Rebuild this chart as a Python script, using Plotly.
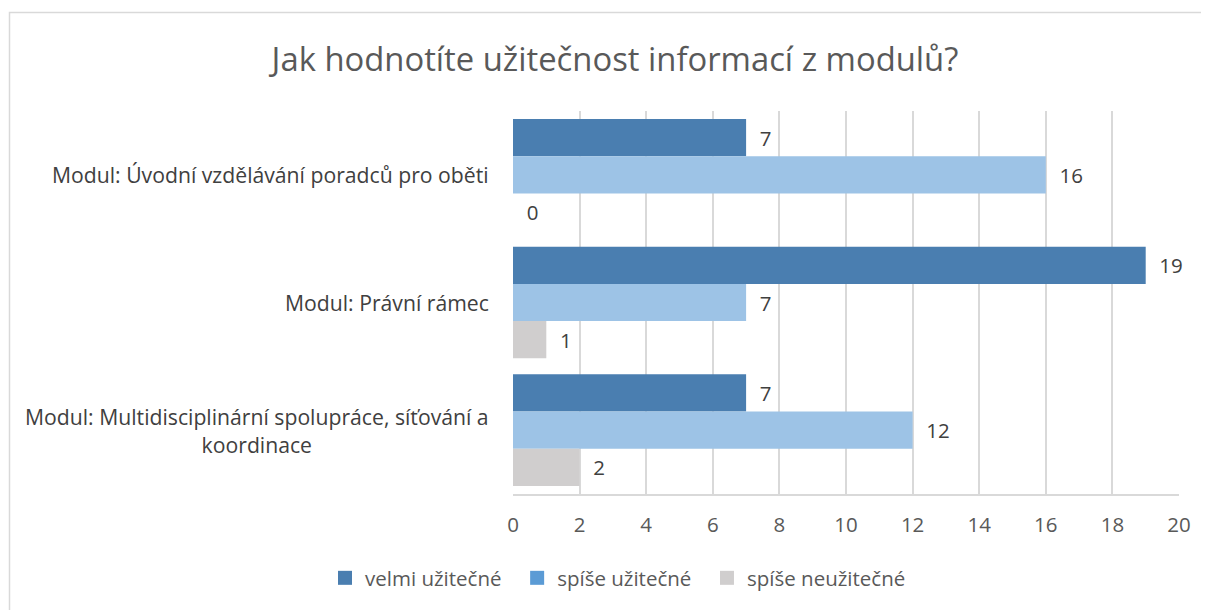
import plotly.graph_objects as go

categories = [
    "Modul: Úvodní vzdělávání poradců pro oběti",
    "Modul: Právní rámec",
    "Modul: Multidisciplinární spolupráce, síťování a<br>koordinace",
]
series_names = ["velmi užitečné", "spíše užitečné", "spíše neužitečné"]
legend_labels = ["velmi užitečné\u00a0\u00a0", "spíše užitečné\u00a0\u00a0", "spíše neužitečné"]
velmi = [7, 19, 7]
spise = [16, 7, 12]
neuz = [0, 1, 2]
bar_colors = ["#4A7EB0", "#9DC3E6", "#D0CECE"]
legend_colors = ["#4A7EB0", "#5B9BD5", "#D0CECE"]
x_ticks = list(range(0, 21, 2))

FONT = "Open Sans"
W, H = 1201, 602  # page has an 8px body margin

fig = go.Figure()
for name, vals, col in zip(series_names, [velmi, spise, neuz], bar_colors):
    fig.add_trace(go.Bar(
        y=list(range(len(categories))), x=vals, orientation="h", name=name,
        marker=dict(color=col, line=dict(width=0)),
        text=vals, texttemplate="  %{x}", textposition="outside",
        textfont=dict(size=20.5, color="#404040", family=FONT),
        cliponaxis=False, showlegend=False,
    ))
for name, col in zip(legend_labels, legend_colors):
    fig.add_trace(go.Scatter(
        x=[None], y=[None], mode="markers", name=name,
        marker=dict(symbol="square", size=14, color=col),
    ))

for i, cat in enumerate(categories):
    fig.add_annotation(
        x=0, xref="paper", y=i, yref="y", text=cat, showarrow=False,
        xanchor="right", yanchor="middle", align="center", xshift=-22,
        font=dict(size=21.2, color="#404040", family=FONT),
    )

fig.add_shape(type="rect", xref="paper", yref="paper",
              x0=(1.5 - 505) / 666, x1=1.2, y0=-0.5, y1=(486 - 4.5) / 383,
              line=dict(color="#D9D9D9", width=1.5), layer="below")

fig.update_layout(
    width=W, height=H,
    margin=dict(l=505, r=30, t=103, b=116),
    paper_bgcolor="white", plot_bgcolor="white",
    barmode="group", bargap=0.125, bargroupgap=0,
    title=dict(text="Jak hodnotíte užitečnost informací z modulů?",
               x=607 / W, xanchor="center", y=1 - 52 / H, yanchor="middle",
               font=dict(size=32.8, color="#595959", family=FONT)),
    xaxis=dict(range=[0, 20], tickvals=x_ticks, showgrid=True, gridcolor="#D9D9D9",
               gridwidth=1.5, zeroline=False, showline=True, linecolor="#D9D9D9",
               linewidth=1.5, ticks="", ticklen=0, ticklabelstandoff=12,
               tickfont=dict(size=20.5, color="#595959", family=FONT)),
    yaxis=dict(range=[2.5, -0.5], showticklabels=False, showgrid=False,
               zeroline=False, showline=False),
    legend=dict(orientation="h", x=(610 - 505) / 666, xanchor="center",
                y=(486 - 570) / 383, yanchor="middle",
                font=dict(size=20.5, color="#595959", family=FONT),
                itemwidth=30, tracegroupgap=0),
    font=dict(family=FONT),
)

fig.write_html("out.html")
